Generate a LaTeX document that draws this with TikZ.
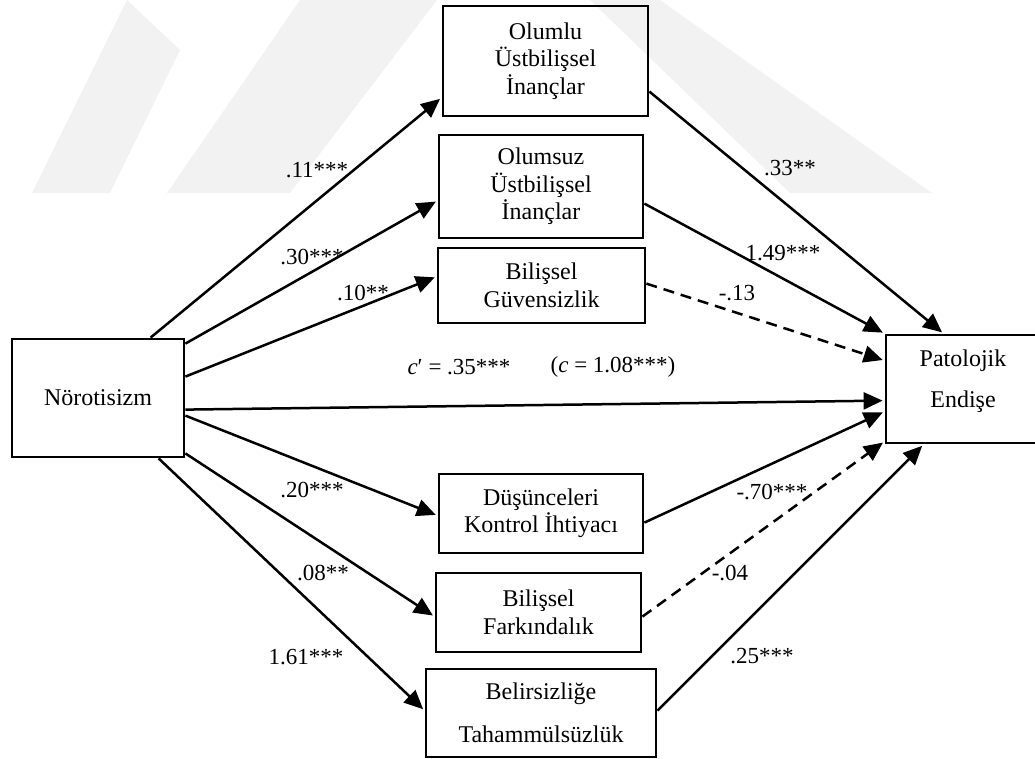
\documentclass[tikz,border=0pt]{standalone}
\usepackage{fontspec}
\setmainfont{Liberation Serif}
\usetikzlibrary{arrows.meta,calc}
\begin{document}
\begin{tikzpicture}[x=1pt,y=-1pt,
  box/.style={draw,line width=2.8pt,align=center,inner sep=0pt,
    font=\fontsize{24}{27.5}\selectfont},
  boxtext/.style={align=center,inner sep=0pt,font=\fontsize{24}{27.5}\selectfont},
  eff/.style={line width=2.5pt,-{Triangle[length=19pt,width=17pt]},shorten >=2pt},
  effdash/.style={eff,dash pattern=on 11pt off 7pt},
  coef/.style={inner sep=0pt,font=\fontsize{23}{27}\selectfont}]
\useasboundingbox (0,0) rectangle (1035,758);

% faint background emblem
\fill[black!5] (32,193) -- (110,193) -- (180,50) -- (127,0) -- cycle;
\fill[black!5] (167,193) -- (290,193) -- (437,0) -- (300,0) -- cycle;
\fill[black!5] (590,0) -- (660,0) -- (932,193) -- (790,193) -- cycle;

% variables
\node[box,minimum width=172pt,minimum height=118pt] (neu) at (98,398) {Nörotisizm};
\node[box,minimum width=205pt,minimum height=110pt] (pos) at (545.5,61)
  {Olumlu\\Üstbilişsel\\İnançlar};
\node[box,minimum width=204pt,minimum height=103pt] (neg) at (541,186.5)
  {Olumsuz\\Üstbilişsel\\İnançlar};
\node[box,minimum width=207pt,minimum height=75pt] (cc) at (541.5,285.5)
  {Bilişsel\\Güvensizlik};
\node[box,minimum width=154pt,minimum height=108pt] (pw) at (963,389) {};
\node[boxtext] (pwt) at (963,381) {Patolojik\\[14pt]Endişe};
\node[box,minimum width=204pt,minimum height=79pt] (nc) at (541,513.5)
  {Düşünceleri\\Kontrol İhtiyacı};
\node[box,minimum width=205pt,minimum height=79pt] (csc) at (538.5,612.5)
  {Bilişsel\\Farkındalık};
\node[box,minimum width=230pt,minimum height=88pt] (iu) at (541,713)
  {Belirsizliğe\\[15pt]Tahammülsüzlük};

% paths from the predictor
\draw[eff] ($(neu.north west)+(140,0)$) -- ($(pos.north west)+(0,93)$);
\draw[eff] ($(neu.north east)+(0,6)$)   -- ($(neg.north west)+(0,67)$);
\draw[eff] ($(neu.north east)+(0,39)$)  -- ($(cc.north west)+(0,30)$);
\draw[eff] ($(neu.north east)+(0,72)$)  -- ($(pw.north west)+(0,67)$);
\draw[eff] ($(neu.north east)+(0,78)$)  -- ($(nc.north west)+(0,43)$);
\draw[eff] ($(neu.south east)+(0,-5)$)  -- ($(csc.north west)+(0,45)$);
\draw[eff] ($(neu.south west)+(148,0)$) -- ($(iu.north west)+(0,43)$);

% paths to the outcome
\draw[eff]     ($(pos.north east)+(0,87)$) -- ($(pw.north west)+(59,0)$);
\draw[eff]     ($(neg.north east)+(0,70)$) -- (pw.north west);
\draw[effdash] ($(cc.north east)+(0,37)$)  -- ($(pw.north west)+(0,27)$);
\draw[eff]     ($(nc.north east)+(0,50)$)  -- ($(pw.north west)+(0,78)$);
\draw[effdash] ($(csc.north east)+(0,45)$) -- ($(pw.south west)+(0,-3)$);
\draw[eff]     ($(iu.north east)+(0,43)$)  -- ($(pw.south west)+(39,0)$);

% coefficients
\node[coef] (a1) at (317,170) {.11***};
\node[coef] (a2) at (312,257) {.30***};
\node[coef] (a3) at (363,293) {.10**};
\node[coef] (a4) at (312,490) {.20***};
\node[coef] (a5) at (323,573) {.08**};
\node[coef] (a6) at (306,657) {1.61***};
\node[coef] (b1) at (790,168) {.33**};
\node[coef] (b2) at (783,253) {1.49***};
\node[coef] (b3) at (737,293) {-.13};
\node[coef] (b4) at (772,492) {-.70***};
\node[coef] (b5) at (730,573) {-.04};
\node[coef] (b6) at (762,656) {.25***};
\node[coef] (cd) at (459,367) {{\itshape c}′ = .35***};
\node[coef] (ct) at (613,367) {({\itshape c} = 1.08***)};
\end{tikzpicture}
\end{document}
